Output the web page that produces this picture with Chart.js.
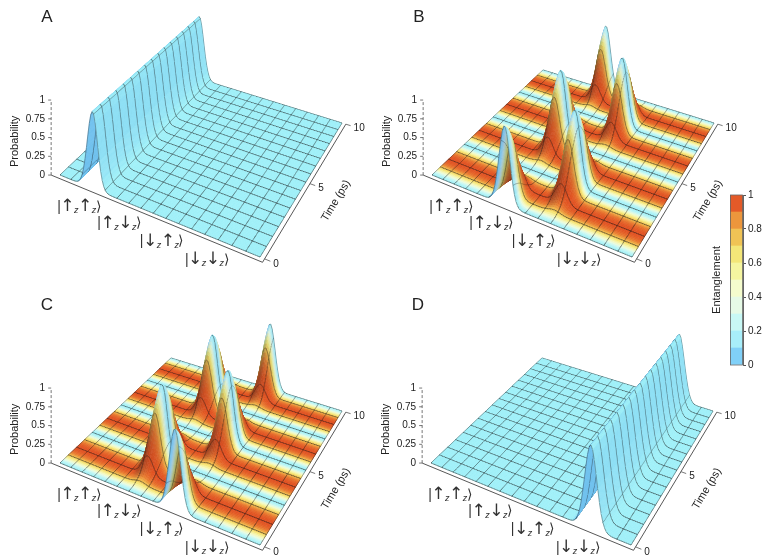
<!DOCTYPE html>
<html>
<head>
<meta charset="utf-8">
<title>Two-spin state probabilities and entanglement</title>
<script src="https://cdn.jsdelivr.net/npm/chart.js@4.4.1/dist/chart.umd.min.js"></script>
<style>
  html, body { margin: 0; padding: 0; background: #fff; }
  #wrap { position: relative; width: 763px; height: 560px; overflow: hidden; }
  #wrap canvas { position: absolute; }
</style>
</head>
<body>
<div id="wrap">
  <canvas id="panelA" width="380" height="288" style="left:0px;top:0px"></canvas>
  <canvas id="panelB" width="391" height="288" style="left:372px;top:0px"></canvas>
  <canvas id="panelC" width="380" height="272" style="left:0px;top:288px"></canvas>
  <canvas id="panelD" width="392" height="272" style="left:371px;top:288px"></canvas>
  <canvas id="colorBar" width="65" height="200" style="left:698px;top:180px"></canvas>
</div>
<script>
// ---- data ----
const timesPs = [0, 0.5, 1, 1.5, 2, 2.5, 3, 3.5, 4, 4.5, 5, 5.5, 6, 6.5, 7, 7.5, 8, 8.5, 9, 9.5, 10];
const stateArrows = [['↑', '↑'], ['↑', '↓'], ['↓', '↑'], ['↓', '↓']];
const probTicks = [0, 0.25, 0.5, 0.75, 1];
const timeTicks = [0, 5, 10];
const entTicks = [0, 0.2, 0.4, 0.6, 0.8, 1];
const entBandEdges = [0, 0.1, 0.2, 0.3, 0.4, 0.5, 0.6, 0.7, 0.8, 0.9, 1];

// probability of a basis state at each time in timesPs
const probHeld = [1, 1, 1, 1, 1, 1, 1, 1, 1, 1, 1, 1, 1, 1, 1, 1, 1, 1, 1, 1, 1];
const probNone = [0, 0, 0, 0, 0, 0, 0, 0, 0, 0, 0, 0, 0, 0, 0, 0, 0, 0, 0, 0, 0];
const probPeaks0 = [1, 0.8, 0.42, 0.12, 0.02, 0, 0.02, 0.12, 0.42, 0.8, 1, 0.8, 0.42, 0.12, 0.02, 0, 0.02, 0.12, 0.42, 0.8, 1];
const probPeaks25 = [0, 0.02, 0.12, 0.42, 0.8, 1, 0.8, 0.42, 0.12, 0.02, 0, 0.02, 0.12, 0.42, 0.8, 1, 0.8, 0.42, 0.12, 0.02, 0];

// entanglement at each time in timesPs
const entNone = [0, 0, 0, 0, 0, 0, 0, 0, 0, 0, 0, 0, 0, 0, 0, 0, 0, 0, 0, 0, 0];
const entBeat = [0, 0.59, 0.95, 0.95, 0.59, 0, 0.59, 0.95, 0.95, 0.59, 0, 0.59, 0.95, 0.95, 0.59, 0, 0.59, 0.95, 0.95, 0.59, 0];

// per panel: states |uu>, |ud>, |du>, |dd>
const probsA = [probHeld, probNone, probNone, probNone];
const probsB = [probNone, probPeaks0, probPeaks25, probNone];
const probsC = [probNone, probPeaks25, probPeaks0, probNone];
const probsD = [probNone, probNone, probNone, probHeld];

// ---- styles / layout ----
const bandColors = ['#80d0f8', '#a8eefa', '#c8f8f5', '#e6fae6', '#f5fccd',
                    '#f5f5a0', '#f3e678', '#f0c355', '#ec963c', '#e45a28'];
const surfStops = [
  [0, [160, 240, 248]], [0.18, [200, 248, 244]], [0.33, [236, 252, 222]],
  [0.48, [248, 247, 175]], [0.6, [246, 230, 120]], [0.72, [241, 190, 78]],
  [0.85, [233, 128, 50]], [1, [224, 78, 32]]
];
const shadeTint = [0.58, 0.72, 0.94];
const LIGHT = (function () { const l = [0.5, -0.1, 1]; const n = Math.hypot(...l); return l.map(c => c / n); })();

// base plane corners inside a panel: |uu>-side t=0, |dd>-side t=0, |dd>-side t=10, |uu>-side t=10
const CORNERS = [[60, 175], [260, 257], [342, 123], [171, 70]];
const UNIT_H = 75;
const S_MIN = 0.15, S_MAX = 4.85, T_MAX = 10;
const NU = 128, NV = 128, MESH_EVERY = 8, SIGMA_S = 0.13;
const U_AX0 = -0.035, V_AX0 = -0.02, U_AX1 = 1.02;
const FONT = '"Liberation Sans", Arial, sans-serif';

function makeProjector() {
  const [[x0, y0], [x1, y1], [x2, y2], [x3, y3]] = CORNERS;
  const dx1 = x1 - x2, dx2 = x3 - x2, dx3 = x0 - x1 + x2 - x3;
  const dy1 = y1 - y2, dy2 = y3 - y2, dy3 = y0 - y1 + y2 - y3;
  const den = dx1 * dy2 - dx2 * dy1;
  const g = (dx3 * dy2 - dx2 * dy3) / den, h = (dx1 * dy3 - dx3 * dy1) / den;
  const a = x1 - x0 + g * x1, b = x3 - x0 + h * x3;
  const d = y1 - y0 + g * y1, e = y3 - y0 + h * y3;
  return function (u, v, z) {
    const w = g * u + h * v + 1;
    return { x: (a * u + b * v + x0) / w, y: (d * u + e * v + y0 - UNIT_H * z) / w, w: w };
  };
}
const proj = makeProjector();
const uOfState = s => (s - S_MIN) / (S_MAX - S_MIN);

function smooth(arr, t) {
  const step = timesPs[1] - timesPs[0], n = arr.length;
  let i = Math.floor(t / step);
  if (i >= n - 1) i = n - 2;
  const f = t / step - i;
  const p0 = arr[Math.max(i - 1, 0)], p1 = arr[i], p2 = arr[i + 1], p3 = arr[Math.min(i + 2, n - 1)];
  const m1 = (p2 - p0) / 2, m2 = (p3 - p1) / 2, f2 = f * f, f3 = f2 * f;
  return (2 * f3 - 3 * f2 + 1) * p1 + (f3 - 2 * f2 + f) * m1 + (-2 * f3 + 3 * f2) * p2 + (f3 - f2) * m2;
}

function surfColor(E) {
  for (let k = 1; k < surfStops.length; k++) {
    if (E <= surfStops[k][0]) {
      const [e0, c0] = surfStops[k - 1], [e1, c1] = surfStops[k];
      const f = (E - e0) / (e1 - e0);
      return c0.map((c, j) => c + (c1[j] - c) * f);
    }
  }
  return surfStops[surfStops.length - 1][1];
}

function buildSurface(probs, ent) {
  const z = new Float64Array((NU + 1) * (NV + 1));
  const eRow = [];
  for (let iv = 0; iv <= NV; iv++) {
    const t = T_MAX * iv / NV;
    const p = probs.map(a => Math.max(0, smooth(a, t)));
    eRow.push(Math.min(1, Math.max(0, smooth(ent, t))));
    for (let iu = 0; iu <= NU; iu++) {
      const s = S_MIN + (S_MAX - S_MIN) * iu / NU;
      let val = 0;
      for (let k = 0; k < 4; k++) {
        const ds = s - (k + 1);
        val += p[k] * Math.exp(-ds * ds / (2 * SIGMA_S * SIGMA_S));
      }
      z[iu * (NV + 1) + iv] = val;
    }
  }
  const verts = [];
  for (let iu = 0; iu <= NU; iu++)
    for (let iv = 0; iv <= NV; iv++)
      verts.push(proj(iu / NU, iv / NV, z[iu * (NV + 1) + iv]));
  const quads = [];
  for (let iu = 0; iu < NU; iu++) {
    for (let iv = 0; iv < NV; iv++) {
      const i00 = iu * (NV + 1) + iv, i01 = i00 + 1, i10 = i00 + NV + 1, i11 = i10 + 1;
      const dzdu = ((z[i10] + z[i11]) - (z[i00] + z[i01])) / 2 * NU;
      const dzdv = ((z[i01] + z[i11]) - (z[i00] + z[i10])) / 2 * NV;
      let nx = -0.375 * dzdu, ny = -0.484 * dzdv, nz = 1;
      const nl = Math.hypot(nx, ny, nz); nx /= nl; ny /= nl; nz /= nl;
      const dot = nx * LIGHT[0] + ny * LIGHT[1] + nz * LIGHT[2];
      const f = Math.min(1, Math.max(0.3, 0.15 + dot / LIGHT[2]));
      const base = surfColor((eRow[iv] + eRow[iv + 1]) / 2);
      const c = base.map((ch, j) => Math.min(255, Math.round(ch * (f + (1 - f) * shadeTint[j]))));
      quads.push({
        idx: [i00, i10, i11, i01], iu: iu, iv: iv, nz: nz,
        depth: proj((iu + 0.5) / NU, (iv + 0.5) / NV, 0).w,
        color: 'rgb(' + c[0] + ',' + c[1] + ',' + c[2] + ')'
      });
    }
  }
  quads.sort((p, q) => q.depth - p.depth);
  return { verts: verts, quads: quads };
}

function drawKet(ctx, cx, cy, arrows) {
  const bar = '14px ' + FONT, arrow = '17px "DejaVu Sans", ' + FONT, sub = 'italic 9px ' + FONT;
  const parts = [['|', bar, 0], [arrows[0], arrow, 0], ['z', sub, 4], [arrows[1], arrow, 0], ['z', sub, 4], ['⟩', bar, 0]];
  let total = 0;
  parts.forEach(p => { ctx.font = p[1]; p.push(ctx.measureText(p[0]).width - 0.5); total += p[3]; });
  let x = cx - total / 2;
  ctx.textAlign = 'left';
  ctx.textBaseline = 'middle';
  parts.forEach(p => { ctx.font = p[1]; ctx.fillText(p[0], x, cy + p[2]); x += p[3]; });
}

function surfacePlugin(letter, probs, ent) {
  const surf = buildSurface(probs, ent);
  return {
    id: 'surface' + letter,
    beforeDatasetsDraw(chart) {
      const ctx = chart.ctx, xs = chart.scales.x, ys = chart.scales.y;
      const X = surf.verts.map(p => xs.getPixelForValue(p.x));
      const Y = surf.verts.map(p => ys.getPixelForValue(p.y));
      ctx.save();
      ctx.lineJoin = 'round';
      for (const q of surf.quads) {
        const [a, b, c, d] = q.idx;
        ctx.beginPath();
        ctx.moveTo(X[a], Y[a]); ctx.lineTo(X[b], Y[b]); ctx.lineTo(X[c], Y[c]); ctx.lineTo(X[d], Y[d]);
        ctx.closePath();
        ctx.fillStyle = q.color;
        ctx.fill();
        ctx.strokeStyle = q.color;
        ctx.lineWidth = 0.6;
        ctx.stroke();
        const m0 = q.iu % MESH_EVERY === 0, m1 = (q.iu + 1) % MESH_EVERY === 0;
        const n0 = q.iv % MESH_EVERY === 0, n1 = (q.iv + 1) % MESH_EVERY === 0;
        if (m0 || m1 || n0 || n1) {
          ctx.beginPath();
          if (m0) { ctx.moveTo(X[a], Y[a]); ctx.lineTo(X[d], Y[d]); }
          if (m1) { ctx.moveTo(X[b], Y[b]); ctx.lineTo(X[c], Y[c]); }
          if (n0) { ctx.moveTo(X[a], Y[a]); ctx.lineTo(X[b], Y[b]); }
          if (n1) { ctx.moveTo(X[d], Y[d]); ctx.lineTo(X[c], Y[c]); }
          ctx.strokeStyle = 'rgba(25,25,25,' + (0.45 + 0.4 * q.nz).toFixed(2) + ')';
          ctx.lineWidth = 0.65;
          ctx.stroke();
        }
      }
      ctx.restore();
    },
    afterDatasetsDraw(chart) {
      const ctx = chart.ctx, xs = chart.scales.x, ys = chart.scales.y;
      const P = (u, v, z) => { const p = proj(u, v, z); return { x: xs.getPixelForValue(p.x), y: ys.getPixelForValue(p.y) }; };
      ctx.save();
      ctx.fillStyle = '#222';
      ctx.strokeStyle = '#555';
      ctx.lineWidth = 0.8;
      // panel letter
      ctx.font = '17px ' + FONT;
      ctx.textAlign = 'center';
      ctx.textBaseline = 'middle';
      ctx.fillText(letter, xs.getPixelForValue(47), ys.getPixelForValue(17));
      // probability axis
      ctx.font = '10px ' + FONT;
      ctx.textAlign = 'right';
      probTicks.forEach(v => {
        const p = P(U_AX0, V_AX0, v);
        ctx.beginPath(); ctx.moveTo(p.x - 3, p.y); ctx.lineTo(p.x, p.y); ctx.stroke();
        ctx.fillText(String(v), p.x - 6, p.y);
      });
      const pm = P(U_AX0, V_AX0, 0.45);
      ctx.save();
      ctx.translate(pm.x - 36, pm.y);
      ctx.rotate(-Math.PI / 2);
      ctx.textAlign = 'center';
      ctx.font = '11px ' + FONT;
      ctx.fillText('Probability', 0, 0);
      ctx.restore();
      // time axis
      ctx.textAlign = 'left';
      timeTicks.forEach(t => {
        const p = P(U_AX1, t / T_MAX, 0), q = P(U_AX1 + 0.025, t / T_MAX, 0);
        ctx.beginPath(); ctx.moveTo(p.x, p.y); ctx.lineTo(q.x, q.y); ctx.stroke();
        ctx.fillText(String(t), q.x + 3, q.y + 3);
      });
      const t0 = P(U_AX1, 0, 0), t1 = P(U_AX1, 1, 0), tm = P(U_AX1, 0.5, 0);
      ctx.save();
      ctx.translate(tm.x + 26, tm.y + 17);
      ctx.rotate(Math.atan2(t1.y - t0.y, t1.x - t0.x));
      ctx.textAlign = 'center';
      ctx.font = '11px ' + FONT;
      ctx.fillText('Time (ps)', 0, 0);
      ctx.restore();
      // state labels
      ctx.fillStyle = '#333';
      stateArrows.forEach((arr, k) => {
        const p = P(uOfState(k + 1), V_AX0, 0);
        drawKet(ctx, p.x - 11, p.y + 16, arr);
      });
      ctx.restore();
    }
  };
}

function axisDatasets() {
  const a0 = proj(U_AX0, V_AX0, 0), a1 = proj(U_AX1, V_AX0, 0), a2 = proj(U_AX1, 1, 0), top = proj(U_AX0, V_AX0, 1);
  return [
    { data: [{ x: a0.x, y: a0.y }, { x: a1.x, y: a1.y }, { x: a2.x, y: a2.y }],
      showLine: true, borderColor: '#444', borderWidth: 0.9, pointRadius: 0 },
    { data: [{ x: a0.x, y: a0.y }, { x: top.x, y: top.y }],
      showLine: true, borderColor: '#666', borderWidth: 0.9, borderDash: [3, 2], pointRadius: 0 }
  ];
}

function makePanel(id, letter, probs, ent) {
  const cv = document.getElementById(id);
  return new Chart(cv, {
    type: 'scatter',
    data: { datasets: axisDatasets() },
    options: {
      responsive: false,
      animation: false,
      events: [],
      layout: { padding: 0 },
      plugins: { legend: { display: false }, tooltip: { enabled: false } },
      scales: {
        x: { type: 'linear', min: 0, max: cv.width, display: false },
        y: { type: 'linear', min: 0, max: cv.height, reverse: true, display: false }
      }
    },
    plugins: [surfacePlugin(letter, probs, ent)]
  });
}

makePanel('panelA', 'A', probsA, entNone);
makePanel('panelB', 'B', probsB, entBeat);
makePanel('panelC', 'C', probsC, entBeat);
makePanel('panelD', 'D', probsD, entNone);

// colour bar
const barOutline = {
  id: 'barOutline',
  afterDatasetsDraw(chart) {
    const a = chart.chartArea, ctx = chart.ctx;
    ctx.save();
    ctx.strokeStyle = '#666';
    ctx.lineWidth = 0.8;
    ctx.strokeRect(a.left + 0.5, a.top, a.right - a.left - 1, a.bottom - a.top);
    ctx.restore();
  }
};
new Chart(document.getElementById('colorBar'), {
  type: 'bar',
  data: {
    labels: [''],
    datasets: bandColors.map((c, k) => ({
      data: [[entBandEdges[k], entBandEdges[k + 1]]],
      backgroundColor: c, borderWidth: 0,
      barPercentage: 1, categoryPercentage: 1, yAxisID: 'y'
    }))
  },
  options: {
    responsive: false,
    animation: false,
    events: [],
    layout: { padding: { top: 15, bottom: 15, left: 0, right: 0 } },
    plugins: { legend: { display: false }, tooltip: { enabled: false } },
    scales: {
      x: { stacked: true, display: false },
      y: {
        position: 'right', min: 0, max: 1,
        afterFit: s => { s.width = 20; },
        ticks: { stepSize: 0.2, padding: 2, color: '#222', font: { family: FONT, size: 10 },
                 callback: v => String(Math.round(v * 10) / 10) },
        grid: { drawOnChartArea: false, tickLength: 3, color: '#555' },
        border: { color: '#666' }
      },
      yl: {
        position: 'left', min: 0, max: 1,
        afterFit: s => { s.width = 32; },
        ticks: { display: false },
        grid: { display: false },
        border: { display: false },
        title: { display: true, text: 'Entanglement', color: '#222', padding: { top: 12, bottom: 0 },
                 font: { family: FONT, size: 11 } }
      }
    }
  },
  plugins: [barOutline]
});
</script>
</body>
</html>
